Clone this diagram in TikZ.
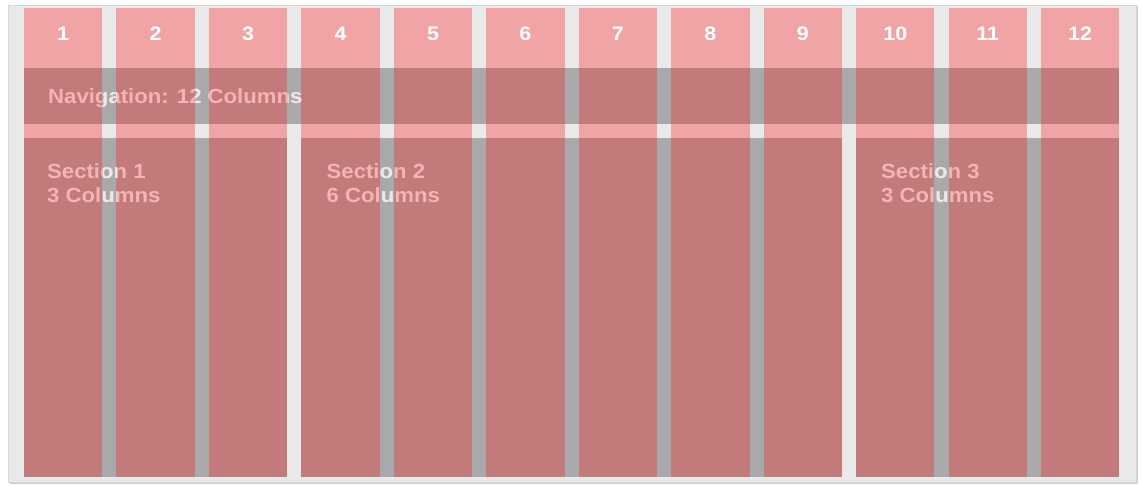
\documentclass[tikz,border=0pt]{standalone}
\usepackage{fontspec}
\setmainfont{Liberation Sans}
\usetikzlibrary{positioning}
\definecolor{colpink}{HTML}{F1A4A6}
\definecolor{spanpink}{HTML}{C27A7B}
\definecolor{gutlight}{HTML}{E9E9E9}
\definecolor{gutdark}{HTML}{A9A9AB}
\definecolor{framerule}{HTML}{D6D6D6}
\definecolor{shadegray}{HTML}{CDCDCD}
\definecolor{lblpink}{HTML}{F4B3B4}
\tikzset{
  numlbl/.style={text=white, font=\fontsize{19.5}{20}\selectfont\bfseries, inner sep=0pt, anchor=base, xscale=1.1, transform shape},
  spanlbl/.style={text=lblpink, font=\fontsize{20.5}{22}\selectfont\bfseries, inner sep=0pt, anchor=base west, xscale=1.08, transform shape},
  knockout/.style={text=gutlight},
}
% left edge of grid column #1
\newcommand{\colleft}[1]{24+(#1-1)*92.45}
% dark band over columns #1..#2, from y=#3 to y=#4
\newcommand{\spanband}[4]{%
  \fill[gutdark] ({\colleft{#1}},#3) rectangle ({\colleft{#2}+78.4},#4);
  \foreach \c in {#1,...,#2} {
    \fill[spanpink] ({\colleft{\c}},#3) rectangle ++(78.4,#4-#3);
  }
}
% text that lets the gutters show through
\newcommand{\gridtext}[3]{%
  \node[spanlbl] (#1) at #2 {#3};
  \begin{scope}
    \path[clip] foreach \g in {1,...,11} {({\colleft{\g}+78.4},0) rectangle ({\colleft{\g+1}},486)};
    \node[spanlbl, knockout] at #2 {#3};
  \end{scope}
}

\begin{document}
\begin{tikzpicture}[x=1pt, y=-1pt]
  \useasboundingbox (0,0) rectangle (1141,486);
  % frame
  \fill[shadegray] (9.5,6.5) rectangle (1137.5,483.5);
  \fill[gutlight, draw=framerule, line width=0.8pt] (8,5) rectangle (1136,482);
  % columns and numbers
  \foreach \i in {1,...,12} {
    \fill[colpink] ({\colleft{\i}},8) rectangle ++(78.4,469);
    \node[numlbl] (num\i) at ({\colleft{\i}+39.2},40.5) {\i};
  }
  % navigation band
  \spanband{1}{12}{68}{124}
  \gridtext{nav}{(48,104)}{Navigation: 12 Columns}
  % sections
  \spanband{1}{3}{138}{477}
  \spanband{4}{9}{138}{477}
  \spanband{10}{12}{138}{477}
  \gridtext{secA}{(47,179)}{Section 1}
  \gridtext{secAcols}{(47,203)}{3 Columns}
  \gridtext{secB}{(326.5,179)}{Section 2}
  \gridtext{secBcols}{(326.5,203)}{6 Columns}
  \gridtext{secC}{(881,179)}{Section 3}
  \gridtext{secCcols}{(881,203)}{3 Columns}
\end{tikzpicture}
\end{document}
